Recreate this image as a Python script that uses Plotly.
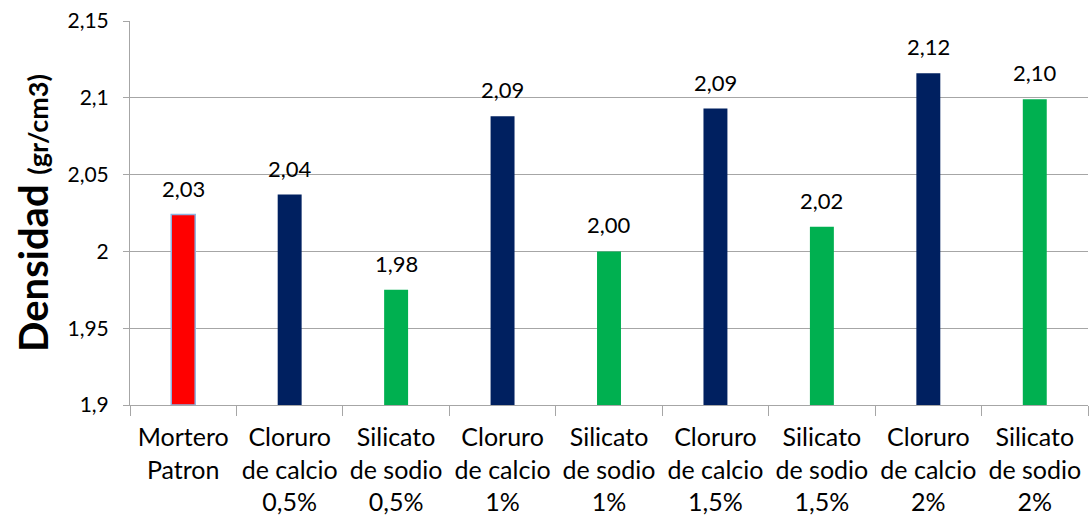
import plotly.graph_objects as go

categories = [
    "Mortero<br>Patron",
    "Cloruro<br>de calcio<br>0,5%",
    "Silicato<br>de sodio<br>0,5%",
    "Cloruro<br>de calcio<br>1%",
    "Silicato<br>de sodio<br>1%",
    "Cloruro<br>de calcio<br>1,5%",
    "Silicato<br>de sodio<br>1,5%",
    "Cloruro<br>de calcio<br>2%",
    "Silicato<br>de sodio<br>2%",
]
values = [2.024, 2.037, 1.975, 2.088, 2.000, 2.093, 2.016, 2.116, 2.099]
value_labels = ["2,03", "2,04", "1,98", "2,09", "2,00", "2,09", "2,02", "2,12", "2,10"]
bar_colors = ["#FF0000", "#002060", "#00B050", "#002060", "#00B050",
              "#002060", "#00B050", "#002060", "#00B050"]
outline_colors = ["#8DB4E2"] + ["rgba(0,0,0,0)"] * 8

font_family = "Lato, 'Liberation Sans', sans-serif"
axis_min = 1.9

fig = go.Figure(go.Bar(
    x=categories,
    y=[v - axis_min for v in values],
    base=axis_min,
    marker=dict(color=bar_colors, line=dict(color=outline_colors, width=1.5)),
    width=0.225,
    hoverinfo="skip",
))

for cat, val, lab in zip(categories, values, value_labels):
    fig.add_annotation(
        x=cat, y=val, text=lab, showarrow=False,
        xanchor="center", yanchor="bottom", yshift=11,
        font=dict(size=22, color="#000000", family=font_family),
    )

fig.update_layout(
    width=1091, height=521,
    margin=dict(l=130, r=3, t=21, b=116),
    paper_bgcolor="white", plot_bgcolor="white",
    separators=",.",
    showlegend=False,
    font=dict(family=font_family, size=20, color="#000000"),
)
fig.update_yaxes(
    range=[axis_min, 2.15], dtick=0.05, tick0=axis_min,
    showgrid=True, gridcolor="#A6A6A6", gridwidth=1,
    showline=True, linecolor="#A6A6A6", linewidth=1,
    ticks="outside", ticklen=6, tickcolor="#A6A6A6",
    tickfont=dict(size=21),
    ticklabelstandoff=10,
    zeroline=False,
    title=dict(text="<b>Densidad <span style='font-size:27px'>(gr/cm3)</span></b>",
               font=dict(size=40), standoff=6),
)
fig.update_xaxes(
    showline=True, linecolor="#A6A6A6", linewidth=1,
    ticks="outside", ticklen=10, tickcolor="#A6A6A6",
    tickson="boundaries",
    tickfont=dict(size=25),
    ticklabelstandoff=10,
    tickangle=0,
    range=[-0.5, 8.5],
)

fig.write_html("out.html")
